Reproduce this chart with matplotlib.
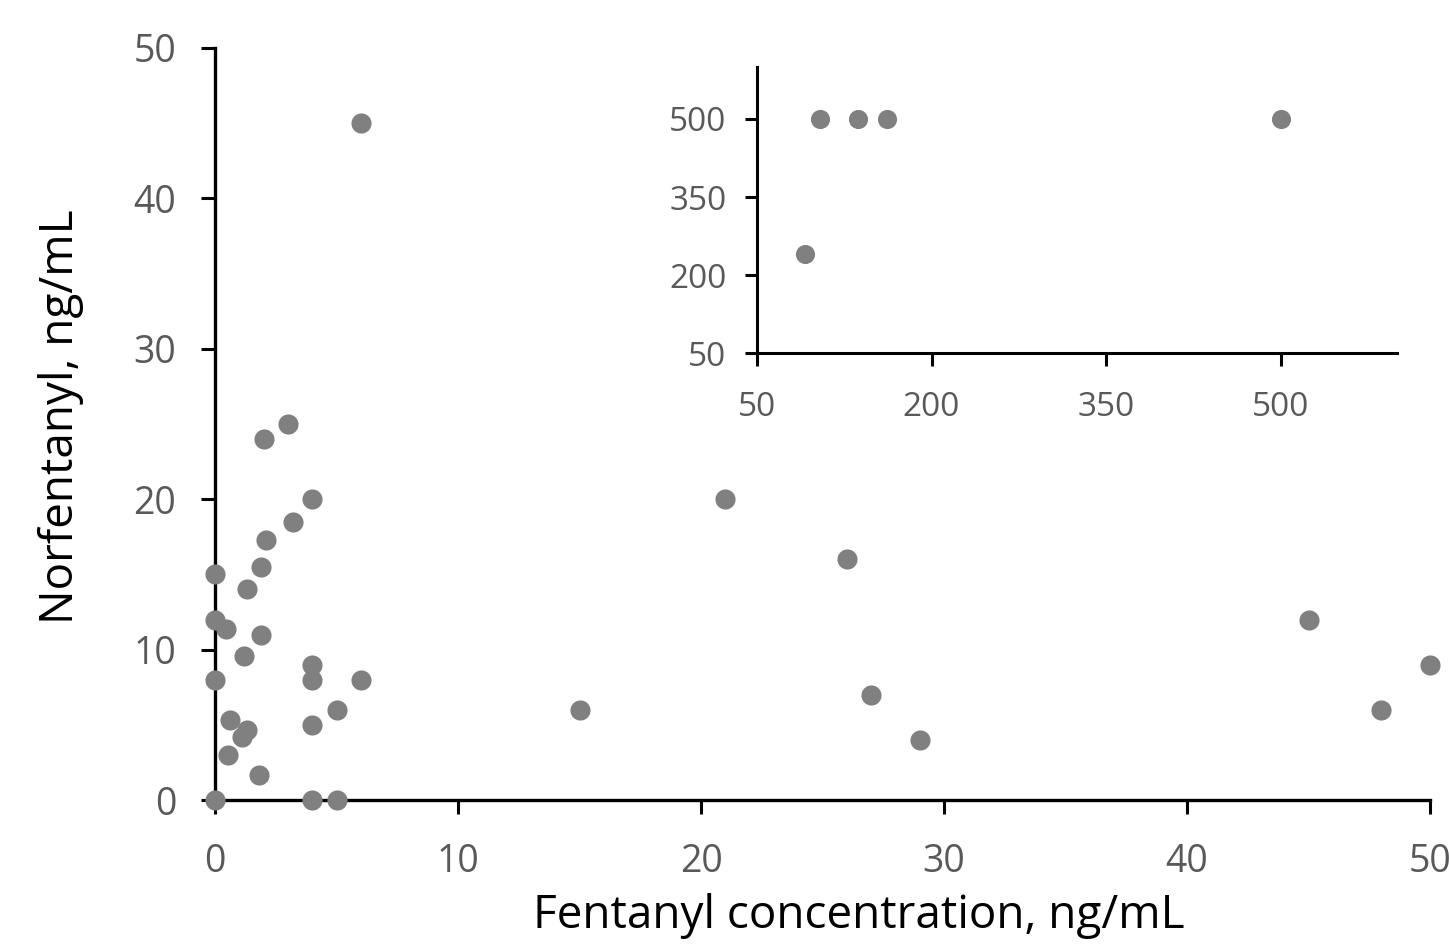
import matplotlib
matplotlib.use("Agg")
import matplotlib.pyplot as plt

# main panel: fentanyl vs norfentanyl, ng/mL
fent = [6, 3, 2, 4, 3.2, 2.1, 1.9, 0, 1.3, 0, 0.45, 1.9, 1.2, 4, 4, 6, 0,
        0.6, 4, 5, 1.3, 1.1, 0.55, 1.8, 0, 4, 5,
        15, 21, 26, 27, 29, 45, 48, 50]
norf = [45, 25, 24, 20, 18.5, 17.3, 15.5, 15, 14, 12, 11.4, 11, 9.6, 9, 8, 8, 8,
        5.3, 5, 6, 4.65, 4.2, 3.0, 1.65, 0, 0, 0,
        6, 20, 16, 7, 4, 12, 6, 9]

# inset: high concentrations
fent_hi = [91, 104, 137, 162, 500]
norf_hi = [240, 500, 500, 500, 500]

main_ticks = [0, 10, 20, 30, 40, 50]
inset_ticks = [50, 200, 350, 500]

plt.rcParams['font.family'] = ['Open Sans', 'DejaVu Sans']
grey = '#808080'
lab = '#595959'

fig = plt.figure(figsize=(14.49, 9.46), dpi=100)
ax = fig.add_axes([0.1484, 0.1543, 0.8385, 0.795])
ax.scatter(fent, norf, s=210, color=grey, linewidths=0, zorder=3, clip_on=False)
ax.set_xlim(0, 50)
ax.set_ylim(0, 50)
ax.set_xticks(main_ticks)
ax.set_yticks(main_ticks)
for s in ['top', 'right']:
    ax.spines[s].set_visible(False)
for s in ['left', 'bottom']:
    ax.spines[s].set_linewidth(2.4)
ax.tick_params(axis='both', direction='out', length=10, width=2.2,
               labelsize=27, labelcolor=lab)
ax.tick_params(axis='x', pad=21)
ax.tick_params(axis='y', pad=18)
ax.set_xlabel('Fentanyl concentration, ng/mL', fontsize=33, color='black')
ax.xaxis.set_label_coords(0.53, -0.124)
ax.set_ylabel('Norfentanyl, ng/mL', fontsize=33, color='black')
ax.yaxis.set_label_coords(-0.108, 0.51)

ins = fig.add_axes([0.5224, 0.6268, 0.4417, 0.3024])
ins.scatter(fent_hi, norf_hi, s=190, color=grey, linewidths=0, zorder=3, clip_on=False)
ins.set_xlim(50, 600)
ins.set_ylim(50, 600)
ins.set_xticks(inset_ticks)
ins.set_yticks(inset_ticks)
for s in ['top', 'right']:
    ins.spines[s].set_visible(False)
for s in ['left', 'bottom']:
    ins.spines[s].set_linewidth(2.2)
ins.tick_params(axis='both', direction='out', length=9, width=2.2,
                labelsize=24, labelcolor=lab)
ins.tick_params(axis='x', pad=18)
ins.tick_params(axis='y', pad=13)

fig.savefig('out.png', dpi=100)
